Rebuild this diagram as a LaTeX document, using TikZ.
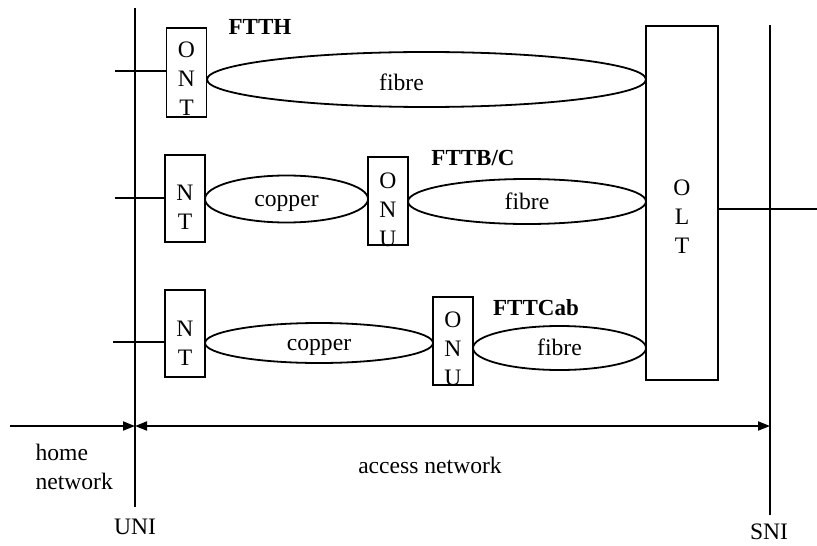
\documentclass[tikz,border=0pt]{standalone}
\usepackage{fontspec}
\setmainfont{Liberation Serif}
\usetikzlibrary{arrows.meta,positioning,shapes.geometric}

\begin{document}
\begin{tikzpicture}[
  x=0.5pt, y=-0.5pt, line width=0.9pt,
  font=\fontsize{11.8}{14.5}\selectfont,
  unit/.style={draw, rectangle, minimum width=20pt, inner sep=0pt},
  letters/.style={align=center, inner sep=0pt},
  link/.style={draw, ellipse, inner sep=0pt, text height=1.9ex, text depth=0.25ex},
  tag/.style={font=\fontsize{11.5}{14}\selectfont\bfseries},
  >={Triangle[length=6pt,width=4.5pt]}
]
\useasboundingbox (0,0) rectangle (817,545);

% interfaces
\coordinate (unitop) at (135,8);
\coordinate (unibot) at (135,507);
\coordinate (snitop) at (770,25);
\coordinate (snibot) at (770,515);
\draw (unitop) -- (unibot);
\draw (snitop) -- (snibot);

% OLT
\node[unit, minimum width=36pt, minimum height=177pt] (olt) at (682,203) {};
\node[letters] (oltL) at (682,217) {O\\L\\T};
\coordinate (core) at (817,209);
\draw (olt.east |- core) -- (core);

% FTTH
\node[unit, minimum height=44.5pt] (ont) at (186.5,72.5) {};
\node[letters] (ontL) at (186.5,79) {O\\N\\T};
\node[link, minimum width=219.5pt, minimum height=27.5pt,
      label={[xshift=-12.5pt, yshift=-1.5pt]center:fibre}] (fib1) at (426.5,79.5) {};
\node[tag] (ftth) at (260,27) {FTTH};
\coordinate (home1) at (115,71);
\draw (home1) -- (home1 -| ont.west);

% FTTB/C
\node[unit, minimum height=43.5pt] (nt2) at (185,198.5) {};
\node[letters] (nt2L) at (185,207.5) {N\\T};
\node[link, minimum width=81.5pt, minimum height=23.5pt] (cop2) at (286.5,199) {copper};
\node[unit, minimum height=44pt] (onu2) at (388,201) {};
\node[letters] (onu2L) at (388,210) {O\\N\\U};
\node[link, minimum width=119pt, minimum height=22.5pt] (fib2) at (527,201.5) {fibre};
\node[tag] (fttb) at (473,158) {FTTB/C};
\coordinate (home2) at (115,198);
\draw (home2) -- (home2 -| nt2.west);

% FTTCab
\node[unit, minimum height=43.5pt] (nt3) at (185,333.5) {};
\node[letters] (nt3L) at (185,343.5) {N\\T};
\node[link, minimum width=114pt, minimum height=20pt] (cop3) at (319,343) {copper};
\node[unit, minimum height=44pt] (onu3) at (453,341) {};
\node[letters] (onu3L) at (453,348.5) {O\\N\\U};
\node[link, minimum width=86.5pt, minimum height=22pt] (fib3) at (559.5,348) {fibre};
\node[tag] (fttcab) at (536,308) {FTTCab};
\coordinate (home3) at (113,342);
\draw (home3) -- (home3 -| nt3.west);

% extents
\coordinate (hstart) at (10,426);
\draw[->] (hstart) -- (hstart -| unitop);
\draw[<->] (unitop |- hstart) -- (snitop |- hstart);
\node[align=left, anchor=west] (homelbl) at (28,467) {home\\network};
\node (acclbl) at (430,465) {access network};
\node (unilbl) at (135,527) {UNI};
\node (snilbl) at (769,532) {SNI};
\end{tikzpicture}
\end{document}
